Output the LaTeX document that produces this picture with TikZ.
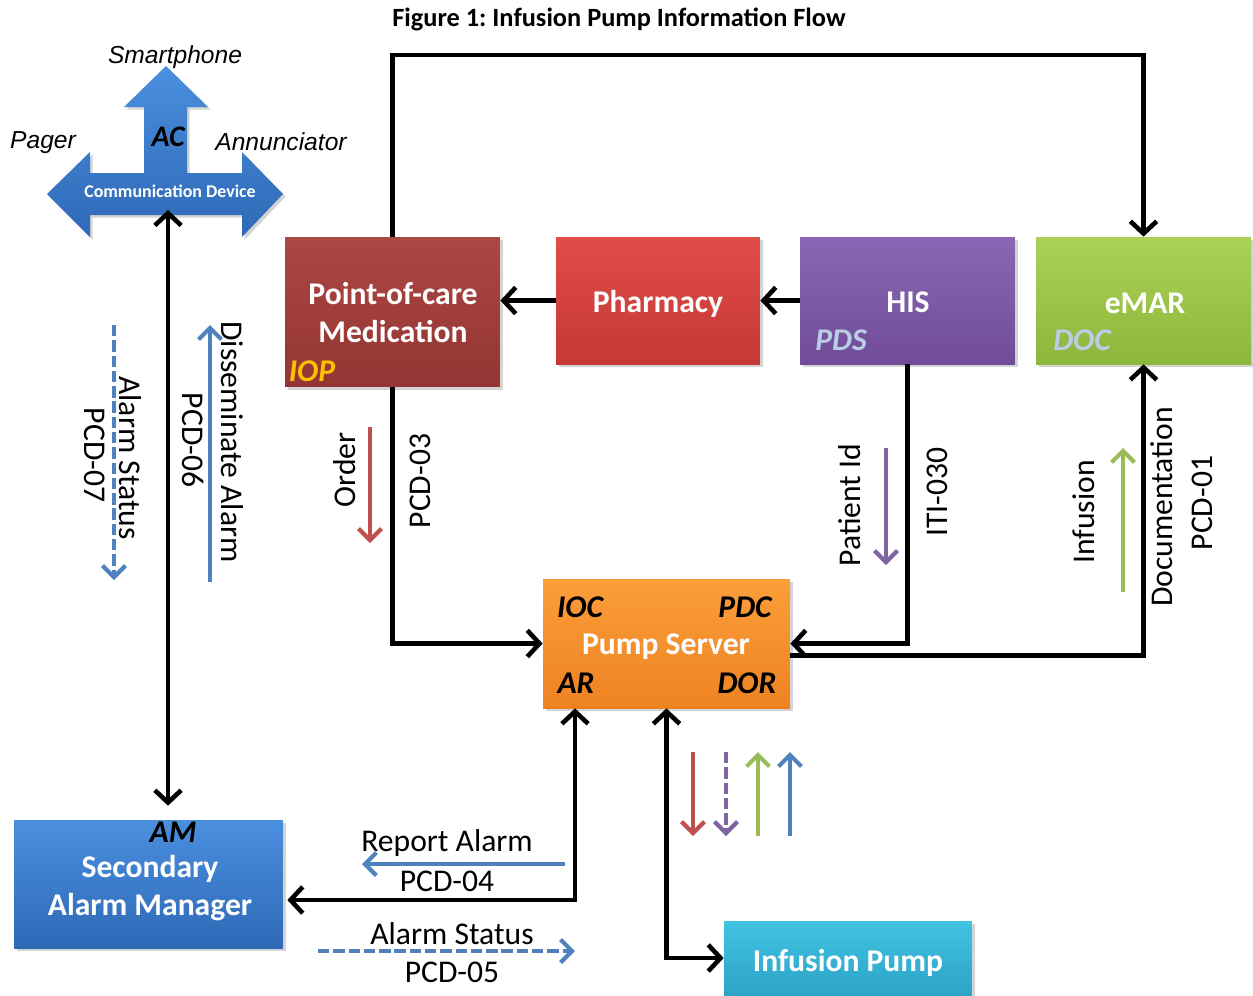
\documentclass[tikz,border=0pt]{standalone}
\usepackage{fontspec}
\setmainfont{Carlito}
\newfontfamily\arialf{Liberation Sans}
\usetikzlibrary{arrows.meta,shadows,calc}
\definecolor{pocT}{HTML}{AC4744}
\definecolor{pocB}{HTML}{933533}
\definecolor{phT}{HTML}{E04C48}
\definecolor{phB}{HTML}{C53835}
\definecolor{hisT}{HTML}{8A67B4}
\definecolor{hisB}{HTML}{704C98}
\definecolor{emT}{HTML}{AAD255}
\definecolor{emB}{HTML}{8CB63C}
\definecolor{pmT}{HTML}{FB9E3A}
\definecolor{pmB}{HTML}{EE8222}
\definecolor{amT}{HTML}{4A8FDE}
\definecolor{amB}{HTML}{2E69B6}
\definecolor{ipT}{HTML}{42C3E2}
\definecolor{ipB}{HTML}{2CA3C6}
\definecolor{iopY}{HTML}{FFC000}
\definecolor{lblue}{HTML}{B9CDE5}
\definecolor{cred}{HTML}{C0504D}
\definecolor{cpur}{HTML}{8064A2}
\definecolor{cgrn}{HTML}{9BBB59}
\definecolor{cblu}{HTML}{4F81BD}
\frenchspacing
\begin{document}
\begin{tikzpicture}[x=0.02cm,y=-0.02cm,
  box/.style={rectangle, inner sep=0pt,
    drop shadow={shadow xshift=1.5pt,shadow yshift=-1.5pt,opacity=0.35}},
  btxt/.style={inner sep=0pt, text=white, align=center,
    font=\fontsize{18}{21.5}\selectfont\bfseries},
  sub/.style={inner sep=0pt, font=\fontsize{18}{22}\selectfont\bfseries\itshape},
  lab/.style={inner sep=0pt, font=\fontsize{18}{22}\selectfont},
  ital/.style={inner sep=0pt, font=\arialf\fontsize{14}{16}\selectfont\itshape},
  conn/.style={line width=2.6pt, -{Straight Barb[length=7pt,width=15pt]}},
  dconn/.style={line width=2.6pt, {Straight Barb[length=7pt,width=15pt]}-{Straight Barb[length=7pt,width=15pt]}},
  carr/.style={line width=2.4pt, -{Straight Barb[length=6.5pt,width=13pt]}},
  dsh/.style={dash pattern=on 6.5pt off 2.2pt}
]
\useasboundingbox (0,0) rectangle (1253,995);

% title
\node[inner sep=0pt, font=\fontsize{15}{18}\selectfont\bfseries] (title) at (619,19) {Figure 1: Infusion Pump Information Flow};

% communication device
\path[top color=amT, bottom color=amB, drop shadow={shadow xshift=1.5pt,shadow yshift=-1.5pt,opacity=0.35}]
  (47,194) -- (90,152) -- (90,173) -- (144,173) -- (144,107) -- (124,107) -- (166,66)
  -- (208,107) -- (187,107) -- (187,173) -- (242,173) -- (242,152) -- (283,194)
  -- (242,237) -- (242,215) -- (90,215) -- (90,237) -- cycle;
\node[inner sep=0pt, text=white, font=\fontsize{10.2}{12}\selectfont\bfseries] (cdtxt) at (170,191) {Communication Device};
\node[sub, font=\fontsize{17}{20}\selectfont\bfseries\itshape] (ac) at (168,137) {AC};
\node[ital] (smart) at (175,57) {Smartphone};
\node[ital] (pager) at (43,143) {Pager};
\node[ital] (ann) at (281,142) {Annunciator};
\coordinate (cdb) at (168,210);

% boxes
\node[box, minimum width=4.3cm, minimum height=3cm, top color=pocT, bottom color=pocB] (poc) at (392.5,312) {};
\node[box, minimum width=4.08cm, minimum height=2.54cm, top color=phT, bottom color=phB] (pharm) at (658,300.5) {};
\node[box, minimum width=4.3cm, minimum height=2.54cm, top color=hisT, bottom color=hisB] (his) at (907.5,300.5) {};
\node[box, minimum width=4.3cm, minimum height=2.54cm, top color=emT, bottom color=emB] (emar) at (1143.5,300.5) {};
\node[box, minimum width=4.94cm, minimum height=2.58cm, top color=pmT, bottom color=pmB] (pump) at (666.5,643.5) {};
\node[box, minimum width=5.38cm, minimum height=2.56cm, top color=amT, bottom color=amB] (am) at (148.5,884) {};
\node[box, minimum width=4.96cm, minimum height=1.48cm, top color=ipT, bottom color=ipB] (ip) at (848,958) {};

% box texts
\node[btxt] (poct) at (393,312.5) {Point-of-care\\Medication};
\node[btxt] (pharmt) at (658,303.5) {Pharmacy};
\node[btxt] (hist) at (908,302) {HIS};
\node[btxt] (emart) at (1145,303) {eMAR};
\node[btxt] (pumpt) at (666,647) {Pump Server};
\node[btxt] (amt) at (150,888) {Secondary\\Alarm Manager};
\node[btxt] (ipt) at (848,963) {Infusion Pump};

% box sub labels
\node[sub, text=iopY] (iop) at (312,371) {IOP};
\node[sub, text=lblue] (pds) at (841,340) {PDS};
\node[sub, text=lblue] (doc) at (1082,340) {DOC};
\node[sub] (ioc) at (580,607) {IOC};
\node[sub] (pdc) at (745,607) {PDC};
\node[sub] (ar) at (576,683) {AR};
\node[sub] (dor) at (747,683) {DOR};
\node[sub] (amlab) at (173,832) {AM};

% connectors
\coordinate (topy) at (0,55);
\draw[conn] (poc.north) -- (poc.north |- topy) -| (emar.north);
\draw[conn] (pharm.west) -- (pharm.west -| poc.east);
\draw[conn] (his.west) -- (pharm.east);
\draw[conn] (poc.south) |- (pump.west);
\draw[conn] (his.south) |- (pump.east);
\draw[conn] ($(pump.east)+(0,12)$) -| (emar.south);
\draw[dconn] (cdb) -- ($(cdb |- am.north)+(0,-14)$);
\draw[dconn] ($(am.east)+(4,16)$) -| ($(pump.south)+(-91.5,0)$);
\draw[dconn] (pump.south) |- (ip.west);

% coloured message arrows
\coordinate (ord1) at (370,427); \coordinate (ord2) at (370,543);
\draw[carr, cred] (ord1) -- (ord2);
\coordinate (pid1) at (886,448); \coordinate (pid2) at (886,565);
\draw[carr, cpur] (pid1) -- (pid2);
\coordinate (inf1) at (1123,592); \coordinate (inf2) at (1123,448);
\draw[carr, cgrn] (inf1) -- (inf2);
\coordinate (dis1) at (210,582); \coordinate (dis2) at (210,325);
\draw[carr, cblu] (dis1) -- (dis2);
\coordinate (ast1) at (114,325); \coordinate (ast2) at (114,580);
\draw[carr, cblu, dsh] (ast1) -- (ast2);
\coordinate (rep1) at (565,864); \coordinate (rep2) at (362,864);
\draw[carr, cblu] (rep1) -- (rep2);
\coordinate (as5a) at (318,951); \coordinate (as5b) at (575,951);
\draw[carr, cblu, dsh] (as5a) -- (as5b);
\coordinate (s1a) at (693,752); \coordinate (s1b) at (693,836);
\draw[carr, cred] (s1a) -- (s1b);
\coordinate (s2a) at (726,752); \coordinate (s2b) at (726,836);
\draw[carr, cpur, dsh] (s2a) -- (s2b);
\coordinate (s3a) at (758,836); \coordinate (s3b) at (758,752);
\draw[carr, cgrn] (s3a) -- (s3b);
\coordinate (s4a) at (790,836); \coordinate (s4b) at (790,752);
\draw[carr, cblu] (s4a) -- (s4b);

% connector labels
\node[lab, rotate=90] (order) at (345,470) {Order};
\node[lab, rotate=90] (pcd03) at (420,481) {PCD-03};
\node[lab, rotate=90] (patid) at (850,505) {Patient Id};
\node[lab, rotate=90] (iti) at (937,492) {ITI-030};
\node[lab, rotate=90] (infl) at (1084,512) {Infusion};
\node[lab, rotate=90] (docl) at (1162,507) {Documentation};
\node[lab, rotate=90] (pcd01) at (1202,503) {PCD-01};
\node[lab, rotate=-90] (dissl) at (232,442) {Disseminate Alarm};
\node[lab, rotate=-90] (pcd06) at (193,440) {PCD-06};
\node[lab, rotate=-90] (as7) at (130,458) {Alarm Status};
\node[lab, rotate=-90] (pcd07) at (95,455) {PCD-07};
\node[lab] (repl) at (447,843) {Report Alarm};
\node[lab] (pcd04) at (447,881) {PCD-04};
\node[lab] (as5) at (452,934) {Alarm Status};
\node[lab] (pcd05) at (452,972) {PCD-05};
\end{tikzpicture}
\end{document}
